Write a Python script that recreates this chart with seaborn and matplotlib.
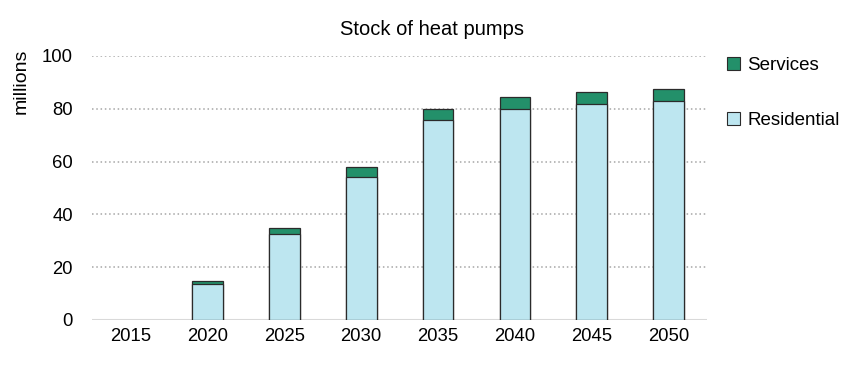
import matplotlib
matplotlib.use("Agg")
import matplotlib.pyplot as plt
import seaborn as sns
import pandas as pd
from matplotlib.patches import Patch

years = ["2015", "2020", "2025", "2030", "2035", "2040", "2045", "2050"]
residential = [0.0, 13.7, 32.5, 54.3, 75.9, 79.9, 81.9, 83.1]
services = [0.0, 1.2, 2.2, 3.5, 4.0, 4.4, 4.5, 4.5]
yticks = [0, 20, 40, 60, 80, 100]

total = [r + s for r, s in zip(residential, services)]
df = pd.DataFrame({"year": years, "residential": residential, "total": total})

sns.set_theme(style="white")
plt.rcParams["font.family"] = ["Liberation Sans", "DejaVu Sans"]
plt.rcParams["text.color"] = "#000000"

fig = plt.figure(figsize=(8.54, 3.66), dpi=100)
ax = fig.add_axes([0.108, 0.126, 0.72, 0.721])

c_serv = "#23906a"
c_res = "#bde6f0"
edge = "#2b2b2b"

sns.barplot(data=df, x="year", y="total", color=c_serv, width=0.4,
            edgecolor=edge, linewidth=0.9, ax=ax, saturation=1)
sns.barplot(data=df, x="year", y="residential", color=c_res, width=0.4,
            edgecolor=edge, linewidth=0.9, ax=ax, saturation=1)
for p in ax.patches:
    if p.get_height() == 0:
        p.set_visible(False)

ax.set_ylim(0, 100)
ax.set_xlim(-0.5, len(years) - 0.5)
ax.set_yticks(yticks)
for y in yticks[1:]:
    ax.axhline(y, color="#a6a6a6", linestyle=(0, (1.0, 1.8)), linewidth=1.1, zorder=0)
ax.axhline(0, color="#d9d9d9", linewidth=1.5, zorder=0)
for s in ["top", "right", "left", "bottom"]:
    ax.spines[s].set_visible(False)
ax.set_xlabel("")
ax.set_ylabel("")
ax.tick_params(axis="y", labelsize=13.3, pad=14, length=0, labelcolor="#000000")
ax.tick_params(axis="x", labelsize=13.3, pad=6, length=0, labelcolor="#000000")
ax.set_title("Stock of heat pumps", fontsize=14.5, pad=15, color="#000000", x=0.553)

fig.text(21 / 854, 1 - 81 / 366, "millions", rotation=90, ha="center", va="center",
         fontsize=14, color="#000000")

handles = [Patch(facecolor=c_serv, edgecolor=edge, linewidth=0.8),
           Patch(facecolor=c_res, edgecolor=edge, linewidth=0.8)]
fig.legend(handles, ["Services", "Residential"], loc="upper left",
           bbox_to_anchor=(0.842, 0.865), frameon=False, fontsize=13.5,
           handlelength=0.7, handleheight=0.7, handletextpad=0.4,
           labelspacing=2.0, borderaxespad=0, labelcolor="#000000")

fig.savefig("out.png", dpi=100)
